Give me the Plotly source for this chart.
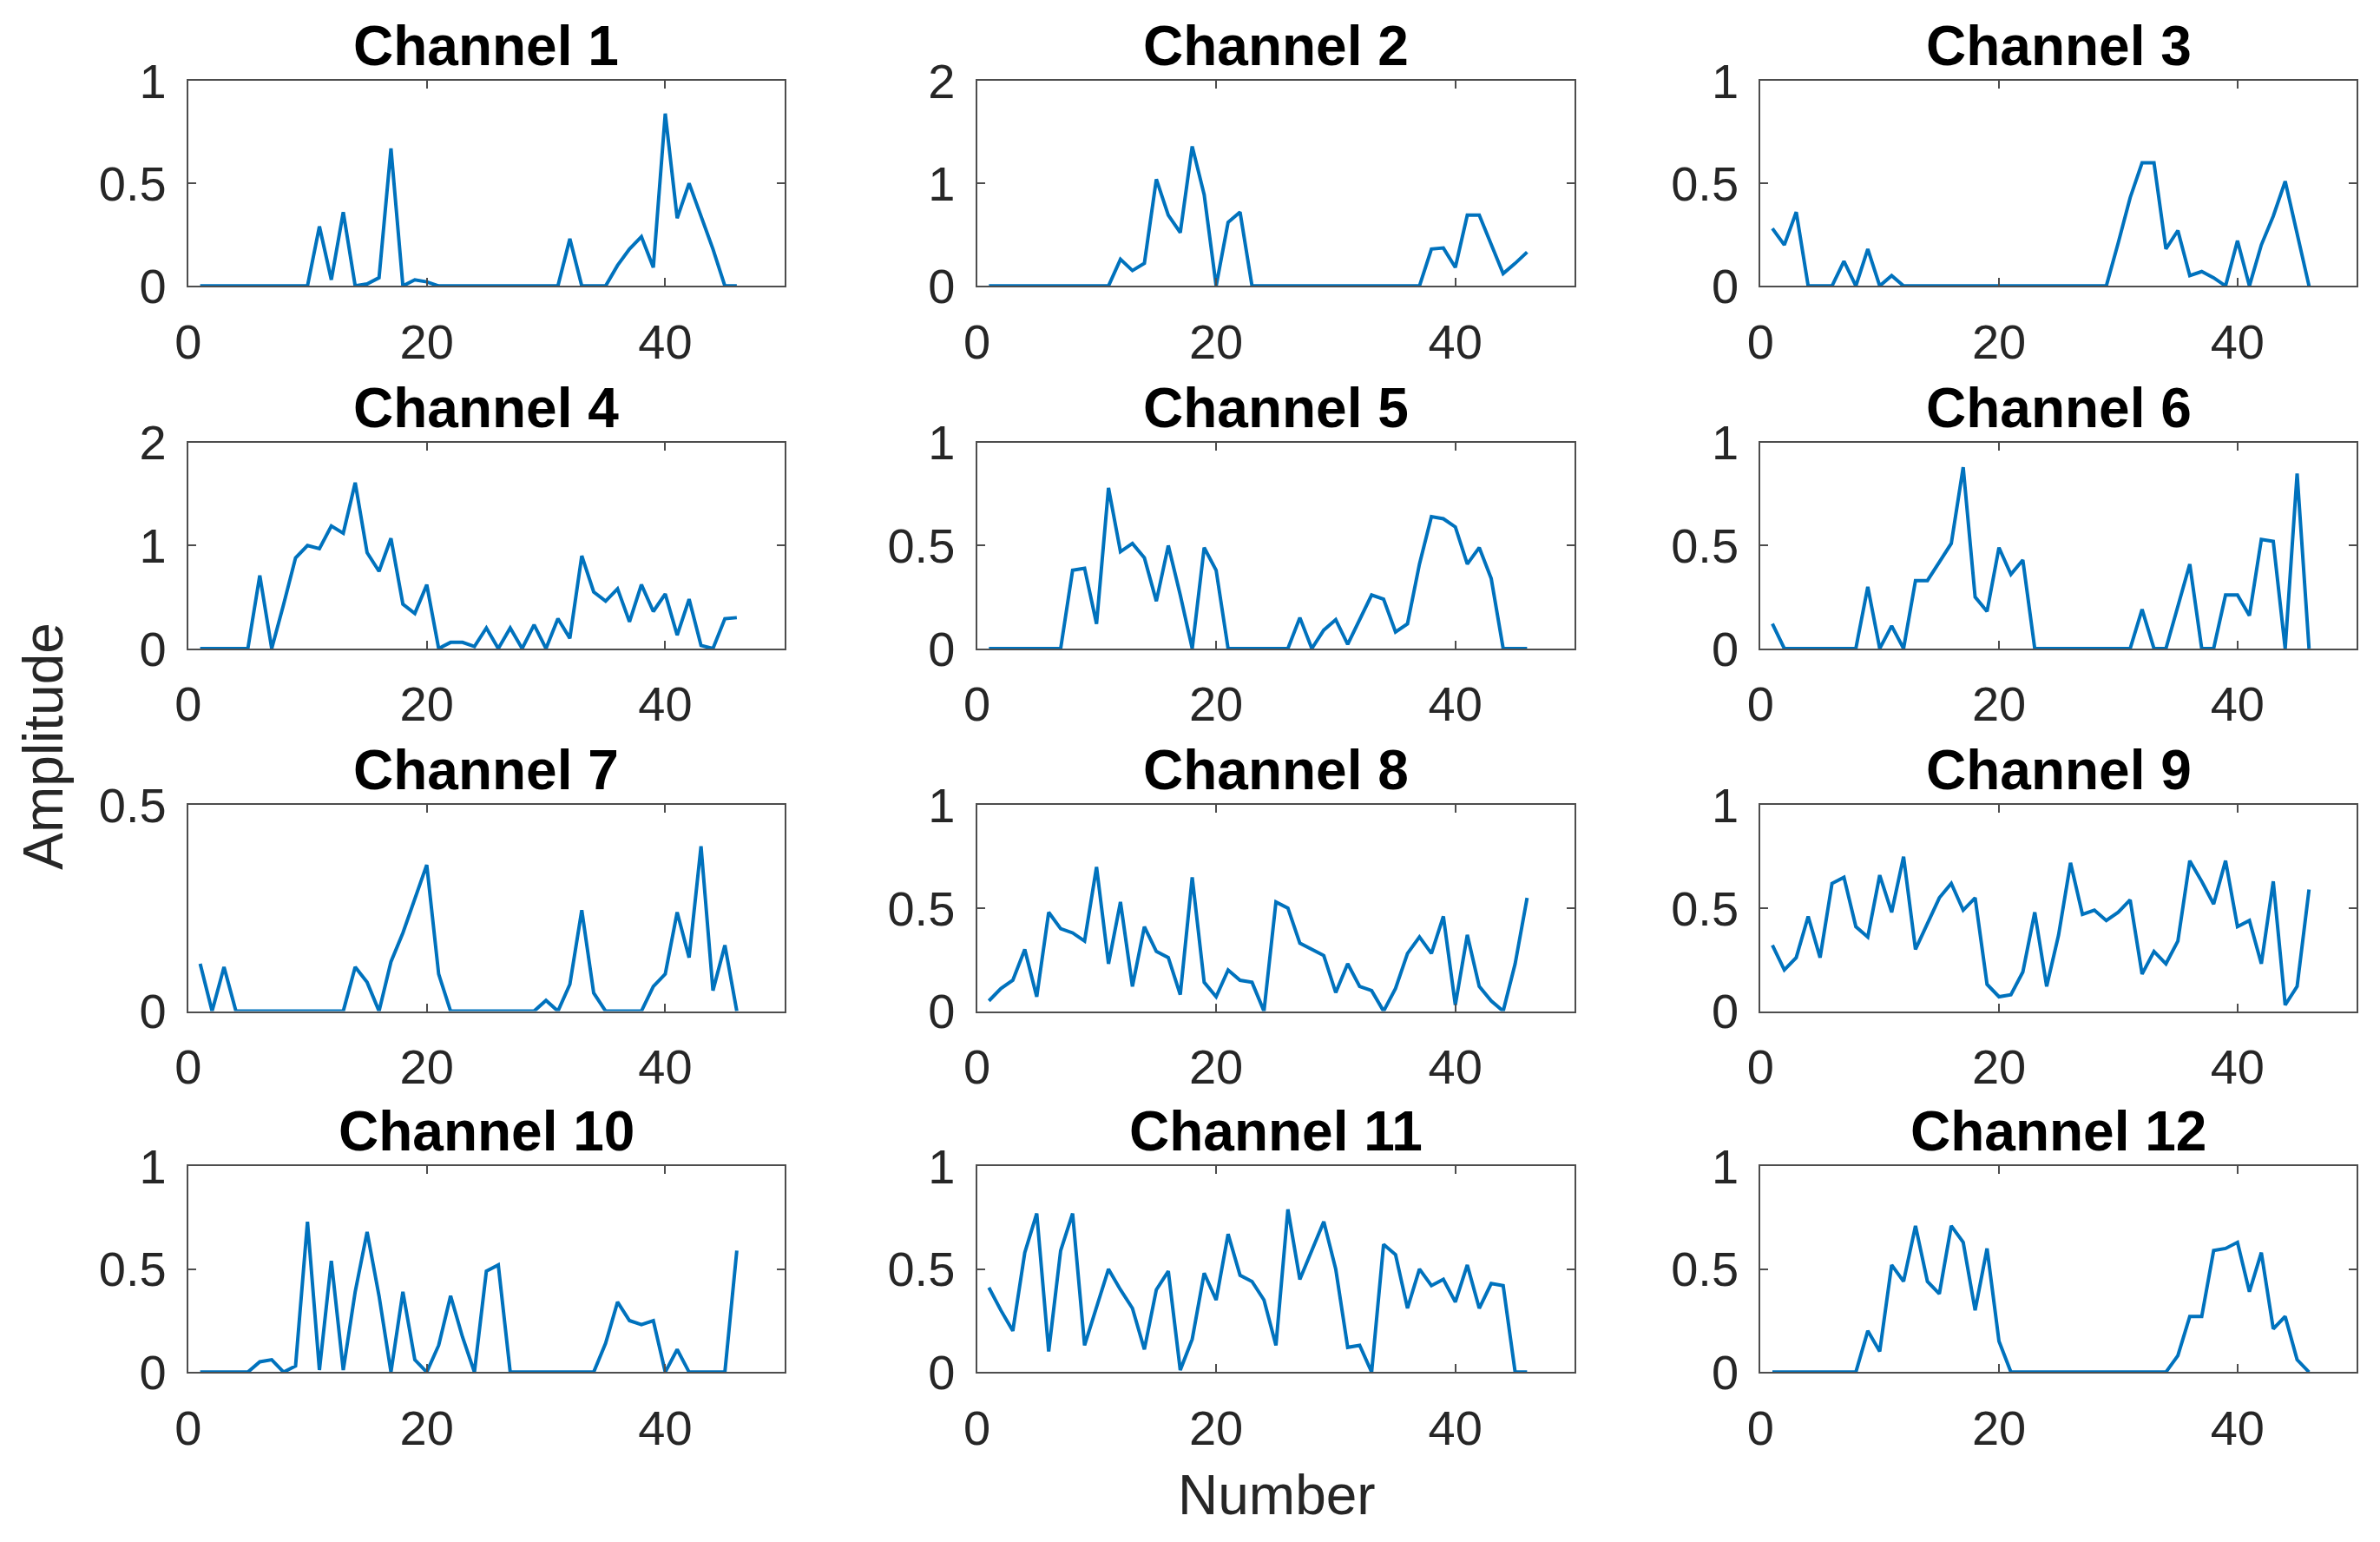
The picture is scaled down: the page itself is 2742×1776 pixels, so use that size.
import plotly.graph_objects as go

x_values = list(range(1, 47))

ch1 = [0]*10 + [0.29, 0.03, 0.36, 0, 0.01, 0.04, 0.67, 0, 0.03, 0.02] + [0]*11 + \
      [0.23, 0, 0, 0, 0.1, 0.18, 0.24, 0.09, 0.84, 0.33, 0.5, 0.34, 0.18, 0, 0]
ch2 = [0]*11 + [0.26, 0.15, 0.22, 1.04, 0.69, 0.52, 1.36, 0.89, 0, 0.62, 0.72, 0] + [0]*14 + \
      [0.36, 0.37, 0.18, 0.69, 0.69, 0.4, 0.12, 0.22, 0.33]
ch3 = [0.28, 0.2, 0.36, 0, 0, 0, 0.12, 0, 0.18, 0, 0.05] + [0]*18 + \
      [0.21, 0.43, 0.6, 0.6, 0.18, 0.27, 0.05, 0.07, 0.04, 0, 0.22, 0, 0.2, 0.34, 0.51, 0.26, 0]
ch4 = [0]*5 + [0.71, 0, 0.43, 0.88, 1.0, 0.97, 1.19, 1.12, 1.61, 0.93, 0.75, 1.07, 0.43, 0.34, 0.62,
               0, 0.06, 0.06, 0.02, 0.2, 0, 0.2, 0, 0.23, 0, 0.29, 0.1, 0.9, 0.55, 0.46, 0.58,
               0.26, 0.62, 0.36, 0.53, 0.13, 0.48, 0.03, 0, 0.29, 0.3]
ch5 = [0]*7 + [0.38, 0.39, 0.12, 0.78, 0.47, 0.51, 0.44, 0.23, 0.5, 0.26, 0, 0.49, 0.38, 0] + [0]*5 + \
      [0.15, 0, 0.09, 0.14, 0.02, 0.14, 0.26, 0.24, 0.08, 0.12, 0.41, 0.64, 0.63, 0.59, 0.41,
       0.49, 0.34, 0, 0, 0]
ch6 = [0.12] + [0]*7 + [0.3, 0, 0.11, 0, 0.33, 0.33, 0.42, 0.51, 0.88, 0.25, 0.18, 0.49, 0.36, 0.43, 0] + \
      [0]*8 + [0.19, 0, 0, 0.2, 0.41, 0, 0, 0.26, 0.26, 0.16, 0.53, 0.52, 0, 0.85, 0]
ch7 = [0.115, 0, 0.107, 0] + [0]*9 + [0.107, 0.07, 0, 0.12, 0.19, 0.27, 0.355, 0.09] + [0]*8 + \
      [0.026, 0, 0.065, 0.245, 0.044] + [0]*4 + [0.06, 0.09, 0.24, 0.13, 0.4, 0.05, 0.16, 0]
ch8 = [0.05, 0.11, 0.15, 0.3, 0.07, 0.48, 0.4, 0.38, 0.34, 0.7,
       0.23, 0.53, 0.12, 0.41, 0.29, 0.26, 0.08, 0.65, 0.14, 0.07,
       0.2, 0.15, 0.14, 0, 0.53, 0.5, 0.33, 0.3, 0.27, 0.09,
       0.23, 0.12, 0.1, 0, 0.11, 0.28, 0.36, 0.28, 0.46, 0.03,
       0.37, 0.12, 0.05, 0, 0.23, 0.55]
ch9 = [0.32, 0.2, 0.26, 0.46, 0.26, 0.62, 0.65, 0.41, 0.36, 0.66,
       0.48, 0.75, 0.3, 0.43, 0.55, 0.62, 0.49, 0.55, 0.13, 0.07,
       0.08, 0.19, 0.48, 0.12, 0.37, 0.72, 0.47, 0.49, 0.44, 0.48,
       0.54, 0.18, 0.29, 0.23, 0.34, 0.73, 0.63, 0.52, 0.73, 0.41,
       0.44, 0.23, 0.63, 0.03, 0.12, 0.59]
ch10 = [0, 0, 0, 0, 0, 0.05, 0.06, 0, 0.03, 0.73,
        0.01, 0.54, 0.01, 0.39, 0.68, 0.37, 0, 0.39, 0.06, 0,
        0.13, 0.37, 0.17, 0, 0.49, 0.52, 0, 0, 0, 0,
        0, 0, 0, 0, 0.14, 0.34, 0.25, 0.23, 0.25, 0,
        0.11, 0, 0, 0, 0, 0.59]
ch11 = [0.41, 0.3, 0.2, 0.58, 0.77, 0.1, 0.59, 0.77, 0.13, 0.31,
        0.5, 0.4, 0.31, 0.11, 0.4, 0.49, 0.01, 0.16, 0.48, 0.35,
        0.67, 0.47, 0.44, 0.35, 0.13, 0.79, 0.45, 0.59, 0.73, 0.5,
        0.12, 0.13, 0, 0.62, 0.57, 0.31, 0.5, 0.42, 0.45, 0.34,
        0.52, 0.31, 0.43, 0.42, 0, 0]
ch12 = [0, 0, 0, 0, 0, 0, 0, 0, 0.2, 0.1,
        0.52, 0.44, 0.71, 0.44, 0.38, 0.71, 0.63, 0.3, 0.6, 0.15,
        0, 0, 0, 0, 0, 0, 0, 0, 0, 0,
        0, 0, 0, 0, 0.08, 0.27, 0.27, 0.59, 0.6, 0.63,
        0.39, 0.58, 0.21, 0.27, 0.06, 0]

channels = [ch1, ch2, ch3, ch4, ch5, ch6, ch7, ch8, ch9, ch10, ch11, ch12]
titles = [f"Channel {i}" for i in range(1, 13)]
y_max = [1, 2, 1, 2, 1, 1, 0.5, 1, 1, 1, 1, 1]
y_ticks = {1: [0, 0.5, 1], 2: [0, 1, 2], 0.5: [0, 0.5]}
y_ticktext = {1: ["0", "0.5", "1"], 2: ["0", "1", "2"], 0.5: ["0", "0.5"]}
x_ticks = [0, 20, 40]
x_ticktext = ["0", "20", "40"]

W, H = 2742, 1776
col_px = [(194, 885), (1108, 1801), (2016, 2707)]
col_dom = [(a / W, b / W) for a, b in col_px]
row_px = [(56, 301), (488, 734), (921, 1167), (1352, 1598)]
row_dom = [(1 - b / H, 1 - t / H) for t, b in row_px]

FONT = "Liberation Sans"
AX_COL = "#262626"
BOX_COL = "#4d4d4d"
LINE_COL = "#0072BD"

fig = go.Figure()
layout = dict(
    width=W, height=H,
    margin=dict(l=0, r=0, t=0, b=0),
    paper_bgcolor="white", plot_bgcolor="white",
    showlegend=False,
    font=dict(family=FONT, size=56, color=AX_COL),
)
annotations = []
for i, (vals, title) in enumerate(zip(channels, titles)):
    r, c = divmod(i, 3)
    n = "" if i == 0 else str(i + 1)
    fig.add_trace(go.Scatter(x=x_values, y=vals, mode="lines",
                             line=dict(color=LINE_COL, width=4),
                             xaxis="x" + n, yaxis="y" + n, hoverinfo="skip"))
    ym = y_max[i]
    layout["xaxis" + n] = dict(
        domain=list(col_dom[c]), anchor="y" + n, range=[0, 50],
        tickmode="array", tickvals=x_ticks, ticktext=x_ticktext,
        ticks="inside", ticklen=9, tickwidth=2, tickcolor=BOX_COL,
        showline=True, linecolor=BOX_COL, linewidth=2, mirror="allticks",
        showgrid=False, zeroline=False, ticklabelstandoff=14,
        tickfont=dict(family=FONT, size=56, color=AX_COL),
    )
    layout["yaxis" + n] = dict(
        domain=list(row_dom[r]), anchor="x" + n, range=[0, ym],
        tickmode="array", tickvals=y_ticks[ym], ticktext=y_ticktext[ym],
        ticks="inside", ticklen=9, tickwidth=2, tickcolor=BOX_COL,
        showline=True, linecolor=BOX_COL, linewidth=2, mirror="allticks",
        showgrid=False, zeroline=False, ticklabelstandoff=12,
        tickfont=dict(family=FONT, size=56, color=AX_COL),
    )
    annotations.append(dict(
        text=f"<b>{title}</b>", x=sum(col_dom[c]) / 2, y=row_dom[r][1],
        xref="paper", yref="paper", xanchor="center", yanchor="bottom",
        yshift=2, showarrow=False, font=dict(family=FONT, size=64, color="black"),
    ))

annotations.append(dict(text="Amplitude", x=26 / W, y=1 - 850 / H, xref="paper", yref="paper",
                        xanchor="center", yanchor="middle", textangle=-90, showarrow=False,
                        font=dict(family=FONT, size=64, color=AX_COL)))
annotations.append(dict(text="Number", x=1455 / W, y=1 - 1745 / H, xref="paper", yref="paper",
                        xanchor="center", yanchor="middle", showarrow=False,
                        font=dict(family=FONT, size=64, color=AX_COL)))
layout["annotations"] = annotations
fig.update_layout(**layout)
fig.write_html("out.html")
